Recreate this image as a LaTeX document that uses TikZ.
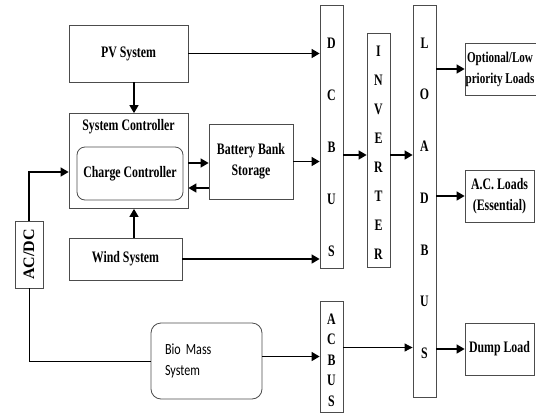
\documentclass[tikz,border=0pt]{standalone}
\usepackage{fontspec}
\usepackage{graphicx}
\setmainfont{Liberation Serif}[FakeStretch=0.74]
\newfontfamily\uprightserif{Liberation Serif}
\newfontfamily\biofont{Carlito}[FakeStretch=0.78]
\usetikzlibrary{arrows.meta}

\tikzset{
  box/.style={draw=black!70, line width=0.8pt, inner sep=0pt, align=center,
    font=\fontsize{16}{21}\selectfont\bfseries},
  busbox/.style={draw=black!70, line width=0.8pt, inner sep=0pt},
  letter/.style={inner sep=0pt, font=\fontsize{16}{18}\selectfont\bfseries},
  flow/.style={-{Triangle[length=8pt,width=9pt]}, line width=1.6pt},
  thinflow/.style={-{Triangle[length=8pt,width=8pt]}, line width=0.8pt},
}

\begin{document}
\begin{tikzpicture}[x=1pt, y=-1pt]
  \useasboundingbox (0,0) rectangle (536,413);
  \clip (0,0) rectangle (536,413);

  % sources and controller
  \node[box, minimum width=119pt, minimum height=57pt] (pv) at (128.5,53.5) {PV System};
  \node[box, minimum width=119pt, minimum height=95pt] (sysctl) at (128.5,161) {};
  \node[letter] (sysctl-title) at (128.5,127) {System Controller};
  \node[box, rounded corners=8pt, minimum width=106pt, minimum height=53pt] (charge) at (130,173.5) {Charge Controller};
  \node[box, minimum width=84pt, minimum height=75pt] (battery) at (251,161.5) {Battery Bank\\Storage};
  \node[box, minimum width=113pt, minimum height=42pt] (wind) at (125.5,259) {Wind System};
  \node[box, minimum width=28pt, minimum height=67pt] (acdc) at (29,254.5)
    {\rotatebox{90}{\uprightserif\bfseries AC/DC}};
  \node[box, rounded corners=10pt, minimum width=111pt, minimum height=76pt,
    align=left, text width=83pt, inner xsep=14pt,
    font=\biofont\fontsize{15.5}{21}\selectfont] (bio) at (206.5,361) {Bio Mass\\System};

  % buses
  \node[busbox, minimum width=23pt, minimum height=263pt] (dcbus) at (331.5,136.5) {};
  \node[busbox, minimum width=23pt, minimum height=234pt] (inverter) at (378.5,150) {};
  \node[busbox, minimum width=23pt, minimum height=392pt] (loadbus) at (424.5,201) {};
  \node[busbox, minimum width=23pt, minimum height=111pt] (acbus) at (331.5,356.5) {};
  \foreach \ch [count=\i] in {D,C,B,U,S}
    \node[letter] (dc-\i) at (331.5,{43+52*(\i-1)}) {\ch};
  \foreach \ch [count=\i] in {I,N,V,E,R,T,E,R}
    \node[letter] (inv-\i) at (378.5,{51+29.1*(\i-1)}) {\ch};
  \foreach \ch [count=\i] in {L,O,A,D,B,U,S}
    \node[letter] (load-\i) at (424.5,{43+51.7*(\i-1)}) {\ch};
  \foreach \ch [count=\i] in {A,C,B,U,S}
    \node[letter] (ac-\i) at (331.5,{319+20.5*(\i-1)}) {\ch};

  % loads
  \node[busbox, minimum width=80pt, minimum height=52pt] (optional) at (505,69) {};
  \node[align=center, inner sep=0pt, font=\fontsize{15}{21}\selectfont\bfseries]
    (optional-text) at (500,69) {Optional/Low\\priority Loads};
  \node[box, minimum width=69pt, minimum height=52pt] (acload) at (499.5,196) {A.C. Loads\\(Essential)};
  \node[box, minimum width=69pt, minimum height=52pt] (dump) at (499.5,349) {Dump Load};

  \coordinate (tap) at (134,0);
  \coordinate (mid) at (0,155);

  % connections
  \draw[flow] (pv.south -| tap) -- (sysctl.north -| tap);
  \draw[flow] (wind.north -| tap) -- (sysctl.south -| tap);
  \draw[flow] (pv.east) -- (pv.east -| dcbus.west);
  \draw[flow] ([yshift=-2pt]sysctl.east) -- ([yshift=-2pt]sysctl.east -| battery.west);
  \draw[flow] ([yshift=-26.5pt]battery.west) -- ([yshift=-26.5pt]battery.west -| sysctl.east);
  \draw[flow] (battery.east) -- (battery.east -| dcbus.west);
  \draw[flow] (wind.east) -- (wind.east -| dcbus.west);
  \draw[flow] (dcbus.east |- mid) -- (inverter.west |- mid);
  \draw[flow] (inverter.east |- mid) -- (loadbus.west |- mid);
  \draw[flow] (optional.west -| loadbus.east) -- (optional.west);
  \draw[flow] (acload.west -| loadbus.east) -- (acload.west);
  \draw[flow] (dump.west -| loadbus.east) -- (dump.west);
  \draw[flow] (acbus.west -| bio.east) -- (acbus.west);
  \draw[thinflow] ([yshift=9pt]acbus.east) -- ([yshift=9pt]acbus.east -| loadbus.west);
  \draw[line width=0.8pt] (bio.west) -| (acdc.south);
  \draw[flow] (acdc.north) |- ([yshift=-11pt]sysctl.west);
\end{tikzpicture}
\end{document}
